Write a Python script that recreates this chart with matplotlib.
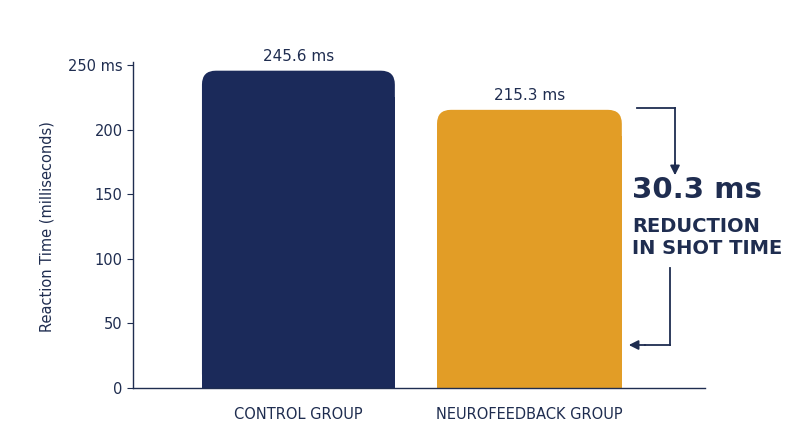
import matplotlib.pyplot as plt
from matplotlib.patches import FancyBboxPatch, Rectangle

groups = ['CONTROL GROUP', 'NEUROFEEDBACK GROUP']
times = [245.6, 215.3]
colors = ['#1b2a5a', '#e29d26']
reduction = times[0] - times[1]

navy = '#1f2d50'
fig = plt.figure(figsize=(8, 4.47), dpi=100)
ax = fig.add_axes([133 / 800, 59 / 447, 572 / 800, 323 / 447])
ax.set_xlim(-0.716, 1.76)
ax.set_ylim(0, 250)

widths = [0.835, 0.80]
px_x, px_y = 231, 323 / 250
for i, (t, c, w) in enumerate(zip(times, colors, widths)):
    r = 0.06
    ax.add_patch(FancyBboxPatch((i - w / 2, 0), w, t,
                                boxstyle=f'round,pad=0,rounding_size={r}',
                                mutation_aspect=px_x / px_y, fc=c, ec='none'))
    ax.add_patch(Rectangle((i - w / 2, 0), w, t - 20, fc=c, ec='none'))
    ax.text(i, t + 5, f'{t} ms', ha='center', va='bottom', fontsize=11, color=navy)

ax.set_xticks([0, 1])
ax.set_xticklabels(groups, fontsize=10.5, color=navy)
ax.tick_params(axis='x', length=0, pad=14)
ax.set_yticks([0, 50, 100, 150, 200, 250])
ax.set_yticklabels(['0', '50', '100', '150', '200', '250 ms'], fontsize=10.5, color=navy)
ax.tick_params(axis='y', length=4, color=navy)
ax.set_ylabel('Reaction Time (milliseconds)', fontsize=10.5, color=navy, labelpad=10)
for s in ['top', 'right']:
    ax.spines[s].set_visible(False)
for s in ['left', 'bottom']:
    ax.spines[s].set_color(navy)
    ax.spines[s].set_linewidth(1)
ax.spines['left'].set_bounds(0, 252)

# annotation (figure pixel coords, y from top)
def fp(x, y):
    return (x, 447 - y)

kw = dict(color=navy, lw=1.3)
fig.add_artist(plt.Line2D([637 / 800, 675 / 800], [(447 - 108) / 447] * 2, **kw))
fig.add_artist(plt.Line2D([675 / 800] * 2, [(447 - 108) / 447, (447 - 165) / 447], **kw))
ax.annotate('', xy=fp(675, 178), xycoords='figure pixels', xytext=fp(675, 160),
            textcoords='figure pixels',
            arrowprops=dict(arrowstyle='-|>', color=navy, lw=1.3, mutation_scale=14))
fig.add_artist(plt.Line2D([670 / 800] * 2, [(447 - 268) / 447, (447 - 345) / 447], **kw))
fig.add_artist(plt.Line2D([645 / 800, 670 / 800], [(447 - 345) / 447] * 2, **kw))
ax.annotate('', xy=fp(626, 345), xycoords='figure pixels', xytext=fp(648, 345),
            textcoords='figure pixels',
            arrowprops=dict(arrowstyle='-|>', color=navy, lw=1.3, mutation_scale=14))

fam = ['Liberation Sans Narrow', 'DejaVu Sans']
fig.text(632 / 800, (447 - 190) / 447, f'{reduction:.1f} ms', fontsize=21, weight='bold',
         color=navy, va='center', family=fam)
fig.text(632 / 800, (447 - 226) / 447, 'REDUCTION', fontsize=14, weight='bold',
         color=navy, va='center', family=fam)
fig.text(632 / 800, (447 - 249) / 447, 'IN SHOT TIME', fontsize=14, weight='bold',
         color=navy, va='center', family=fam)

fig.savefig('out.png', dpi=100)
